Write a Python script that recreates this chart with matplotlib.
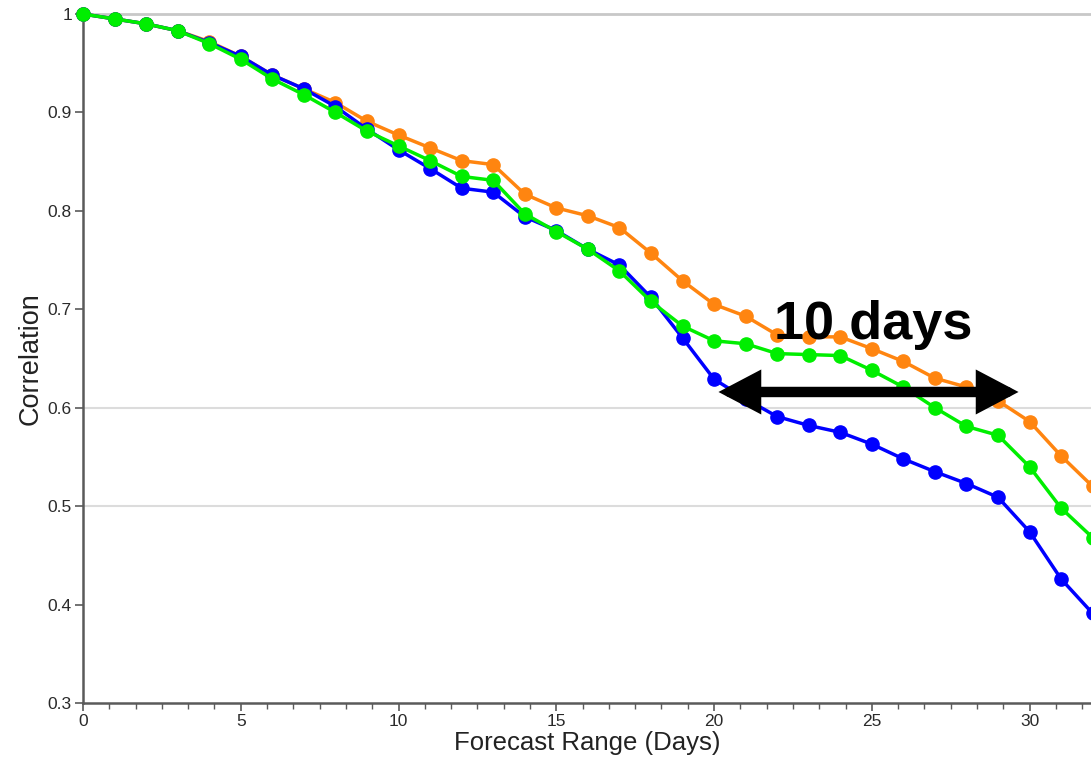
import matplotlib
matplotlib.use('Agg')
import matplotlib.pyplot as plt
import matplotlib.patheffects as pe
from matplotlib.ticker import MultipleLocator, FixedLocator

# correlation vs forecast lead time, one value per day
days = list(range(0, 33))
corr_orange = [1.000, 0.995, 0.990, 0.983, 0.972, 0.957, 0.938, 0.924, 0.910, 0.891,
               0.877, 0.864, 0.851, 0.847, 0.817, 0.803, 0.795, 0.783, 0.757, 0.729,
               0.705, 0.693, 0.674, 0.672, 0.672, 0.660, 0.647, 0.630, 0.621, 0.607,
               0.586, 0.551, 0.520]
corr_green = [1.000, 0.995, 0.990, 0.983, 0.970, 0.954, 0.934, 0.918, 0.900, 0.881,
              0.866, 0.851, 0.835, 0.831, 0.797, 0.779, 0.761, 0.739, 0.708, 0.683,
              0.668, 0.665, 0.655, 0.654, 0.653, 0.638, 0.621, 0.600, 0.581, 0.572,
              0.540, 0.498, 0.468]
corr_blue = [1.000, 0.995, 0.990, 0.983, 0.971, 0.957, 0.938, 0.924, 0.906, 0.883,
             0.862, 0.843, 0.823, 0.819, 0.794, 0.780, 0.761, 0.745, 0.712, 0.671,
             0.629, 0.609, 0.591, 0.582, 0.575, 0.563, 0.548, 0.535, 0.523, 0.509,
             0.474, 0.426, 0.391]

gap_start, gap_end, gap_y = 20.14, 29.65, 0.616
gap_label = "10 days"

plt.rcParams['font.family'] = ['Liberation Sans', 'DejaVu Sans']

fig = plt.figure(figsize=(10.91, 7.65), dpi=100)
ax = fig.add_axes([0.0761, 0.081, 0.924, 0.9007])

# sparse reference lines
for yv in [0.5, 0.6]:
    ax.axhline(yv, color='#dcdcdc', lw=1.5, zorder=0)
ax.axhline(1.0, color='#c8c8c8', lw=2, zorder=0, clip_on=False)

style = dict(lw=2.5, marker='o', markersize=9.5, clip_on=False)
ax.plot(days, corr_orange, color='#ff8510', zorder=3, **style)
ax.plot(days, corr_blue, color='#0000ff', zorder=4, **style)
ax.plot(days, corr_green, color='#00ee00', zorder=5, **style)

ax.set_xlim(0, 31.95)
ax.set_ylim(0.3, 1.0)

ax.xaxis.set_major_locator(MultipleLocator(5))
ax.xaxis.set_minor_locator(MultipleLocator(5 / 6))
ax.yaxis.set_major_locator(FixedLocator([0.3, 0.4, 0.5, 0.6, 0.7, 0.8, 0.9, 1.0]))
ax.set_yticklabels(['0.3', '0.4', '0.5', '0.6', '0.7', '0.8', '0.9', '1'])

for s in ['top', 'right']:
    ax.spines[s].set_visible(False)
for s in ['left', 'bottom']:
    ax.spines[s].set_color('#5a5a5a')
    ax.spines[s].set_linewidth(1.8)

ax.tick_params(axis='both', which='major', length=6, width=1.2, color='#5a5a5a',
               labelsize=12.5, labelcolor='#2a2a2a', pad=2)
ax.tick_params(axis='x', which='minor', length=4, width=1.0, color='#5a5a5a')

ax.set_xlabel("Forecast Range (Days)", fontsize=18.5, color='#222222', labelpad=1)
ax.set_ylabel("Correlation", fontsize=19.5, color='#222222', labelpad=3)

# double-headed arrow marking the gain in lead time
ax.annotate('', xy=(gap_start, gap_y), xytext=(gap_end, gap_y),
            arrowprops=dict(arrowstyle='<|-|>,head_length=0.95,head_width=0.5',
                            mutation_scale=20, lw=7.5, color='black',
                            shrinkA=0, shrinkB=0, joinstyle='miter',
                            path_effects=[pe.SimplePatchShadow(offset=(1.5, -2.5),
                                                               shadow_rgbFace='#777777',
                                                               alpha=0.5),
                                          pe.Normal()]),
            zorder=6)
ax.text((gap_start + gap_end) / 2 + 0.15, 0.684, gap_label, fontsize=39,
        fontweight='bold', ha='center', va='center', color='black', zorder=7)

fig.savefig('out.png', dpi=100)
